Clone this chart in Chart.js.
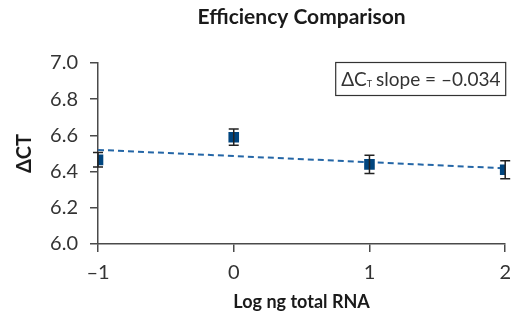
<!DOCTYPE html>
<html>
<head>
<meta charset="utf-8">
<script src="https://cdn.jsdelivr.net/npm/chart.js@4.4.0/dist/chart.umd.min.js"></script>
<style>
  html, body { margin: 0; padding: 0; background: #fff; }
  canvas { display: block; }
</style>
</head>
<body>
<canvas id="chart" width="520" height="319"></canvas>
<script>
// values
const logRna = [-1, 0, 1, 2];
const deltaCt = [6.465, 6.59, 6.44, 6.41];
const ctError = [0.04, 0.045, 0.05, 0.05];
const trendX = [-1, 2];
const trendY = [6.52, 6.418];
const xTicks = [-1, 0, 1, 2];
const yTicks = [6.0, 6.2, 6.4, 6.6, 6.8, 7.0];

const FONT = 'Lato, "DejaVu Sans", sans-serif';
const AXIS = '#4a4a4a';

// error bars + title + slope box
const extras = {
  id: 'extras',
  afterDatasetsDraw(chart) {
    const ctx = chart.ctx;
    const xs = chart.scales.x, ys = chart.scales.y;
    ctx.save();
    ctx.strokeStyle = '#222';
    ctx.lineWidth = 1.5;
    logRna.forEach((v, i) => {
      const px = xs.getPixelForValue(v);
      const top = ys.getPixelForValue(deltaCt[i] + ctError[i]);
      const bot = ys.getPixelForValue(deltaCt[i] - ctError[i]);
      ctx.beginPath();
      ctx.moveTo(px, top); ctx.lineTo(px, bot);
      ctx.moveTo(px - 5, top); ctx.lineTo(px + 5, top);
      ctx.moveTo(px - 5, bot); ctx.lineTo(px + 5, bot);
      ctx.stroke();
    });
    ctx.restore();
  },
  afterDraw(chart) {
    const ctx = chart.ctx;
    const a = chart.chartArea;
    ctx.save();
    // title
    ctx.fillStyle = '#1a1a1a';
    ctx.font = 'bold 21px ' + FONT;
    ctx.textAlign = 'center';
    ctx.textBaseline = 'middle';
    ctx.fillText('Efficiency Comparison', (a.left + a.right) / 2, 17);

    // slope box
    const bw = 170, bh = 33;
    const bx = a.right - bw, by = a.top - 1;
    ctx.fillStyle = '#fff';
    ctx.fillRect(bx, by, bw, bh);
    ctx.strokeStyle = '#333';
    ctx.lineWidth = 1.2;
    ctx.strokeRect(bx + 0.5, by + 0.5, bw, bh);
    ctx.fillStyle = '#333';
    ctx.textAlign = 'left';
    ctx.textBaseline = 'alphabetic';
    let tx = bx + 6;
    const base = by + 24;
    ctx.font = '19px ' + FONT;
    ctx.fillText('\u0394C', tx, base);
    tx += ctx.measureText('\u0394C').width;
    ctx.font = '9px ' + FONT;
    ctx.fillText('T', tx, base + 1);
    tx += ctx.measureText('T').width + 4;
    ctx.font = '19px ' + FONT;
    ctx.fillText('slope = \u20130.034', tx, base);
    ctx.restore();
  }
};

new Chart(document.getElementById('chart'), {
  type: 'scatter',
  data: {
    datasets: [
      {
        label: 'trend',
        type: 'line',
        data: trendX.map((x, i) => ({ x: x, y: trendY[i] })),
        borderColor: '#2466a6',
        borderWidth: 2,
        borderDash: [6, 4],
        pointRadius: 0,
        fill: false,
        order: 2
      },
      {
        label: 'ΔCT',
        data: logRna.map((x, i) => ({ x: x, y: deltaCt[i] })),
        backgroundColor: '#00457f',
        borderColor: '#00457f',
        pointStyle: 'rect',
        pointRadius: 7.5,
        borderWidth: 0,
        order: 1
      }
    ]
  },
  options: {
    responsive: false,
    animation: false,
    layout: { padding: { top: 63, right: 13, left: 0, bottom: 0 } },
    plugins: {
      legend: { display: false },
      tooltip: { enabled: false },
      title: { display: false }
    },
    scales: {
      x: {
        type: 'linear',
        min: -1,
        max: 2,
        afterBuildTicks: (s) => { s.ticks = xTicks.map(v => ({ value: v })); },
        afterFit: (s) => { s.height = 75; },
        ticks: {
          padding: 9,
          color: '#333',
          font: { family: FONT, size: 20 },
          callback: (v) => v < 0 ? '\u2013' + Math.abs(v) : String(v)
        },
        grid: { drawOnChartArea: false, tickLength: 8, color: AXIS, lineWidth: 1.5 },
        border: { color: AXIS, width: 1.5 },
        title: {
          display: true,
          text: 'Log ng total RNA',
          color: '#1a1a1a',
          font: { family: FONT, size: 18, weight: 'bold' },
          padding: { top: 0, bottom: 6 }
        }
      },
      y: {
        min: 6.0,
        max: 7.0,
        afterBuildTicks: (s) => { s.ticks = yTicks.map(v => ({ value: v })); },
        afterFit: (s) => { s.width = 98; },
        ticks: {
          padding: 12,
          color: '#333',
          font: { family: FONT, size: 20 },
          callback: (v) => Number(v).toFixed(1)
        },
        grid: { drawOnChartArea: false, tickLength: 8, color: AXIS, lineWidth: 1.5 },
        border: { color: AXIS, width: 1.5 },
        title: {
          display: true,
          text: '\u0394CT',
          color: '#1a1a1a',
          font: { family: FONT, size: 20, weight: 'bold' },
          padding: { top: 13, bottom: 0 }
        }
      }
    }
  },
  plugins: [extras]
});
</script>
</body>
</html>
